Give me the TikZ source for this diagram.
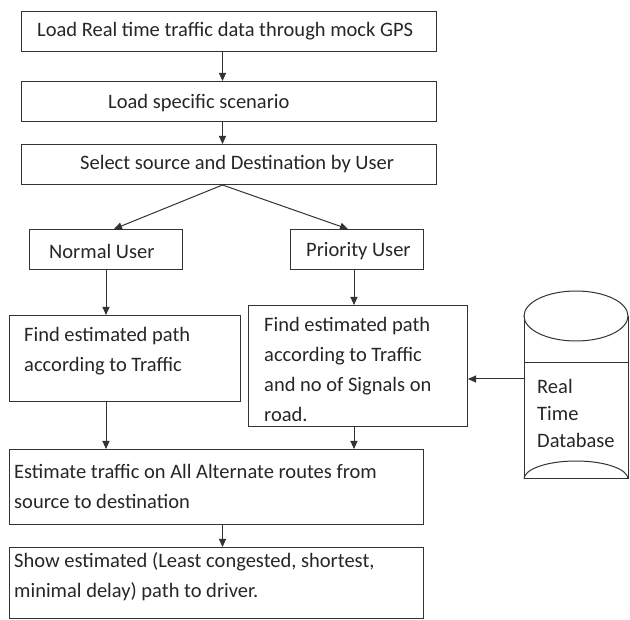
\documentclass[tikz,border=0pt]{standalone}
\usepackage{fontspec}
\setmainfont{Carlito}
\usetikzlibrary{arrows.meta}
\begin{document}
\begin{tikzpicture}[x=1pt,y=-1pt,
  box/.style={draw=black!80, line width=1pt, inner sep=0pt, anchor=north west},
  txt/.style={inner sep=0pt, text=black!85, align=left, font=\fontsize{20.5}{30}\selectfont},
  arr/.style={draw=black!80, line width=1pt, -{Triangle[length=8pt,width=7pt]}}]
\useasboundingbox (0,0) rectangle (630,620);
% boxes
\node[box, minimum width=415pt, minimum height=40pt] (b1) at (21,11) {};
\node[box, minimum width=415pt, minimum height=40pt] (b2) at (21,81) {};
\node[box, minimum width=415pt, minimum height=40pt] (b3) at (21,144) {};
\node[box, minimum width=153pt, minimum height=40pt] (nu) at (29,229) {};
\node[box, minimum width=133pt, minimum height=40pt] (pu) at (290,229) {};
\node[box, minimum width=231pt, minimum height=86pt] (fl) at (9,315) {};
\node[box, minimum width=219pt, minimum height=121pt] (fr) at (248,305) {};
\node[box, minimum width=414pt, minimum height=75pt] (est) at (9,449) {};
\node[box, minimum width=414pt, minimum height=71pt] (show) at (9,547) {};
% texts
\node[txt, anchor=west] (t1) at (37,31) {Load Real time traffic data through mock GPS};
\node[txt, anchor=west] (t2) at (108,103) {Load specific scenario};
\node[txt, anchor=west] (t3) at (80,164) {Select source and Destination by User};
\node[txt, anchor=west] (tnu) at (49,251) {Normal User};
\node[txt, anchor=west] (tpu) at (306,251) {Priority User};
\node[txt, anchor=west] (tfl) at (24,351) {Find estimated path\\according to Traffic};
\node[txt, anchor=west] (tfr) at (264,369) {Find estimated path\\according to Traffic\\and no of Signals on\\road.};
\node[txt, anchor=west] (test) at (14,486) {Estimate traffic on All Alternate routes from\\source to destination};
\node[txt, anchor=west] (tshow) at (14,577) {Show estimated (Least congested, shortest,\\minimal delay) path to driver.};
% database cylinder
\draw[draw=black!80, line width=1pt] (576,316) ellipse [x radius=52pt, y radius=25pt];
\draw[draw=black!80, line width=1pt] (524,316) -- (524,479) (628,316) -- (628,479)
  (524,363) -- (628,363) (524,479) -- (628,479);
\draw[draw=black!80, line width=1pt] (524,479) arc[start angle=180, end angle=360, x radius=52pt, y radius=-18pt];
\node[txt, anchor=west, font=\fontsize{20.5}{27}\selectfont] (tdb) at (537,413) {Real\\Time\\Database};
\coordinate (dbw) at (524,379);
% connectors
\draw[arr] ([xshift=-6.5pt]b1.south) -- ([xshift=-6.5pt]b2.north);
\draw[arr] ([xshift=-6.5pt]b2.south) -- ([xshift=-6.5pt]b3.north);
\draw[arr] ([xshift=-6.5pt]b3.south) -- ([xshift=8pt]nu.north);
\draw[arr] ([xshift=-6.5pt]b3.south) -- ([xshift=-9pt]pu.north);
\draw[arr] (nu.south) -- (nu.south |- fl.north);
\draw[arr] ([xshift=-3pt]pu.south) -- ([xshift=-3pt]pu.south |- fr.north);
\draw[arr] (nu.south |- fl.south) -- (nu.south |- est.north);
\draw[arr] ([xshift=-3pt]pu.south |- fr.south) -- ([xshift=-3pt]pu.south |- est.north);
\draw[arr] ([xshift=6pt]est.south) -- ([xshift=6pt]show.north);
\draw[arr] (dbw) -- (dbw -| fr.east);
\end{tikzpicture}
\end{document}
